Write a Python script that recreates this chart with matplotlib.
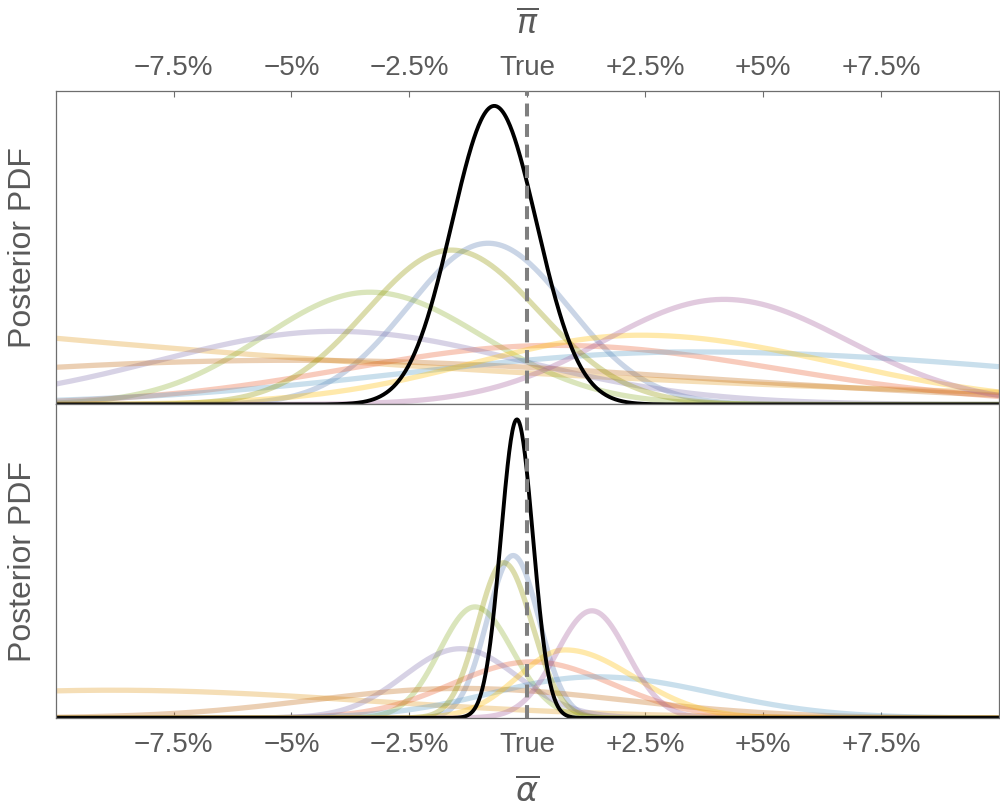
import numpy as np
import matplotlib.pyplot as plt

plt.rcParams['font.family'] = ['Liberation Sans', 'DejaVu Sans']

# Mathematica default palette, one colour per model
curve_colors = ["#5E81B5", "#E19C24", "#8FB032", "#EB6235", "#8778B3",
                "#C56E1A", "#5D9EC7", "#FFBF00", "#A5609D", "#929600"]

# top panel (pi bar): centre, left / right spread, peak height (relative, black = 1)
pi_mu = [-0.83, -40.0, -3.34, 0.6, -4.09, -5.0, 3.5, 2.4, 4.17, -1.61]
pi_sd_lo = [1.7, 21.7, 2.25, 4.4, 3.7, 8.5, 6.0, 3.5, 2.55, 1.8]
pi_sd_hi = [1.7, 21.7, 2.4, 4.7, 3.9, 8.5, 8.0, 4.1, 2.63, 1.85]
pi_peak = [0.540, 0.577, 0.376, 0.198, 0.245, 0.148, 0.176, 0.232, 0.352, 0.517]
pi_comb = (-0.7, 0.9, 0.9, 1.0)

# bottom panel (alpha bar)
alpha_mu = [-0.3, -8.8, -1.11, 0.1, -1.42, -1.4, 1.45, 0.8, 1.37, -0.5]
alpha_sd_lo = [0.55, 5.5, 0.75, 1.7, 1.2, 3.15, 2.2, 1.0, 0.75, 0.55]
alpha_sd_hi = [0.55, 5.5, 0.8, 1.7, 1.2, 3.45, 2.5, 1.45, 0.75, 0.6]
alpha_peak = [0.544, 0.093, 0.372, 0.188, 0.232, 0.099, 0.138, 0.228, 0.359, 0.520]
alpha_comb = (-0.22, 0.34, 0.34, 1.0)

tick_pos = [-7.5, -5, -2.5, 0, 2.5, 5, 7.5]
tick_lab = ["\u22127.5%", "\u22125%", "\u22122.5%", "True", "+2.5%", "+5%", "+7.5%"]

grey = "#5a5a5a"
xs = np.linspace(-10, 10, 1201)


def bump(x, mu, s_lo, s_hi, peak):
    s = np.where(x < mu, s_lo, s_hi)
    return peak * np.exp(-0.5 * ((x - mu) / s) ** 2)


def panel(ax, mus, lo, hi, peaks, comb):
    for c, m, a, b, p in zip(curve_colors, mus, lo, hi, peaks):
        ax.plot(xs, bump(xs, m, a, b, p), color=c, alpha=0.33, lw=3.8,
                solid_capstyle='butt')
    ax.plot(xs, bump(xs, *comb), color="black", lw=2.8)
    ax.axvline(0, color="#7f7f7f", lw=2.9, dashes=(3.2, 1.9), zorder=5)
    ax.set_xlim(-10, 10)
    ax.set_ylim(0, 1.05)
    ax.set_yticks([])
    ax.set_xticks(tick_pos)
    ax.set_xticklabels(tick_lab)
    ax.set_ylabel("Posterior PDF", fontsize=23, color=grey, labelpad=13)
    for sp in ax.spines.values():
        sp.set_color("#6e6e6e")
        sp.set_linewidth(0.9)


fig, (ax1, ax2) = plt.subplots(2, 1, figsize=(10, 8.1), dpi=100)
fig.subplots_adjust(left=0.0556, right=0.999, top=0.8877, bottom=0.1136, hspace=0)

panel(ax1, pi_mu, pi_sd_lo, pi_sd_hi, pi_peak, pi_comb)
panel(ax2, alpha_mu, alpha_sd_lo, alpha_sd_hi, alpha_peak, alpha_comb)

ax1.tick_params(axis='x', direction='in', length=4, color="#6e6e6e",
                top=True, bottom=False, labeltop=True, labelbottom=False,
                labelsize=20, labelcolor=grey, pad=7)
ax1.xaxis.set_label_position('top')
ax1.set_xlabel(r"$\overline{\pi}$", fontsize=24, color=grey, labelpad=16)

ax2.tick_params(axis='x', direction='in', length=4, color="#6e6e6e",
                top=False, bottom=True, labelsize=20, labelcolor=grey, pad=10)
ax2.set_xlabel(r"$\overline{\alpha}$", fontsize=24, color=grey, labelpad=14)

fig.savefig("out.png", dpi=100)
